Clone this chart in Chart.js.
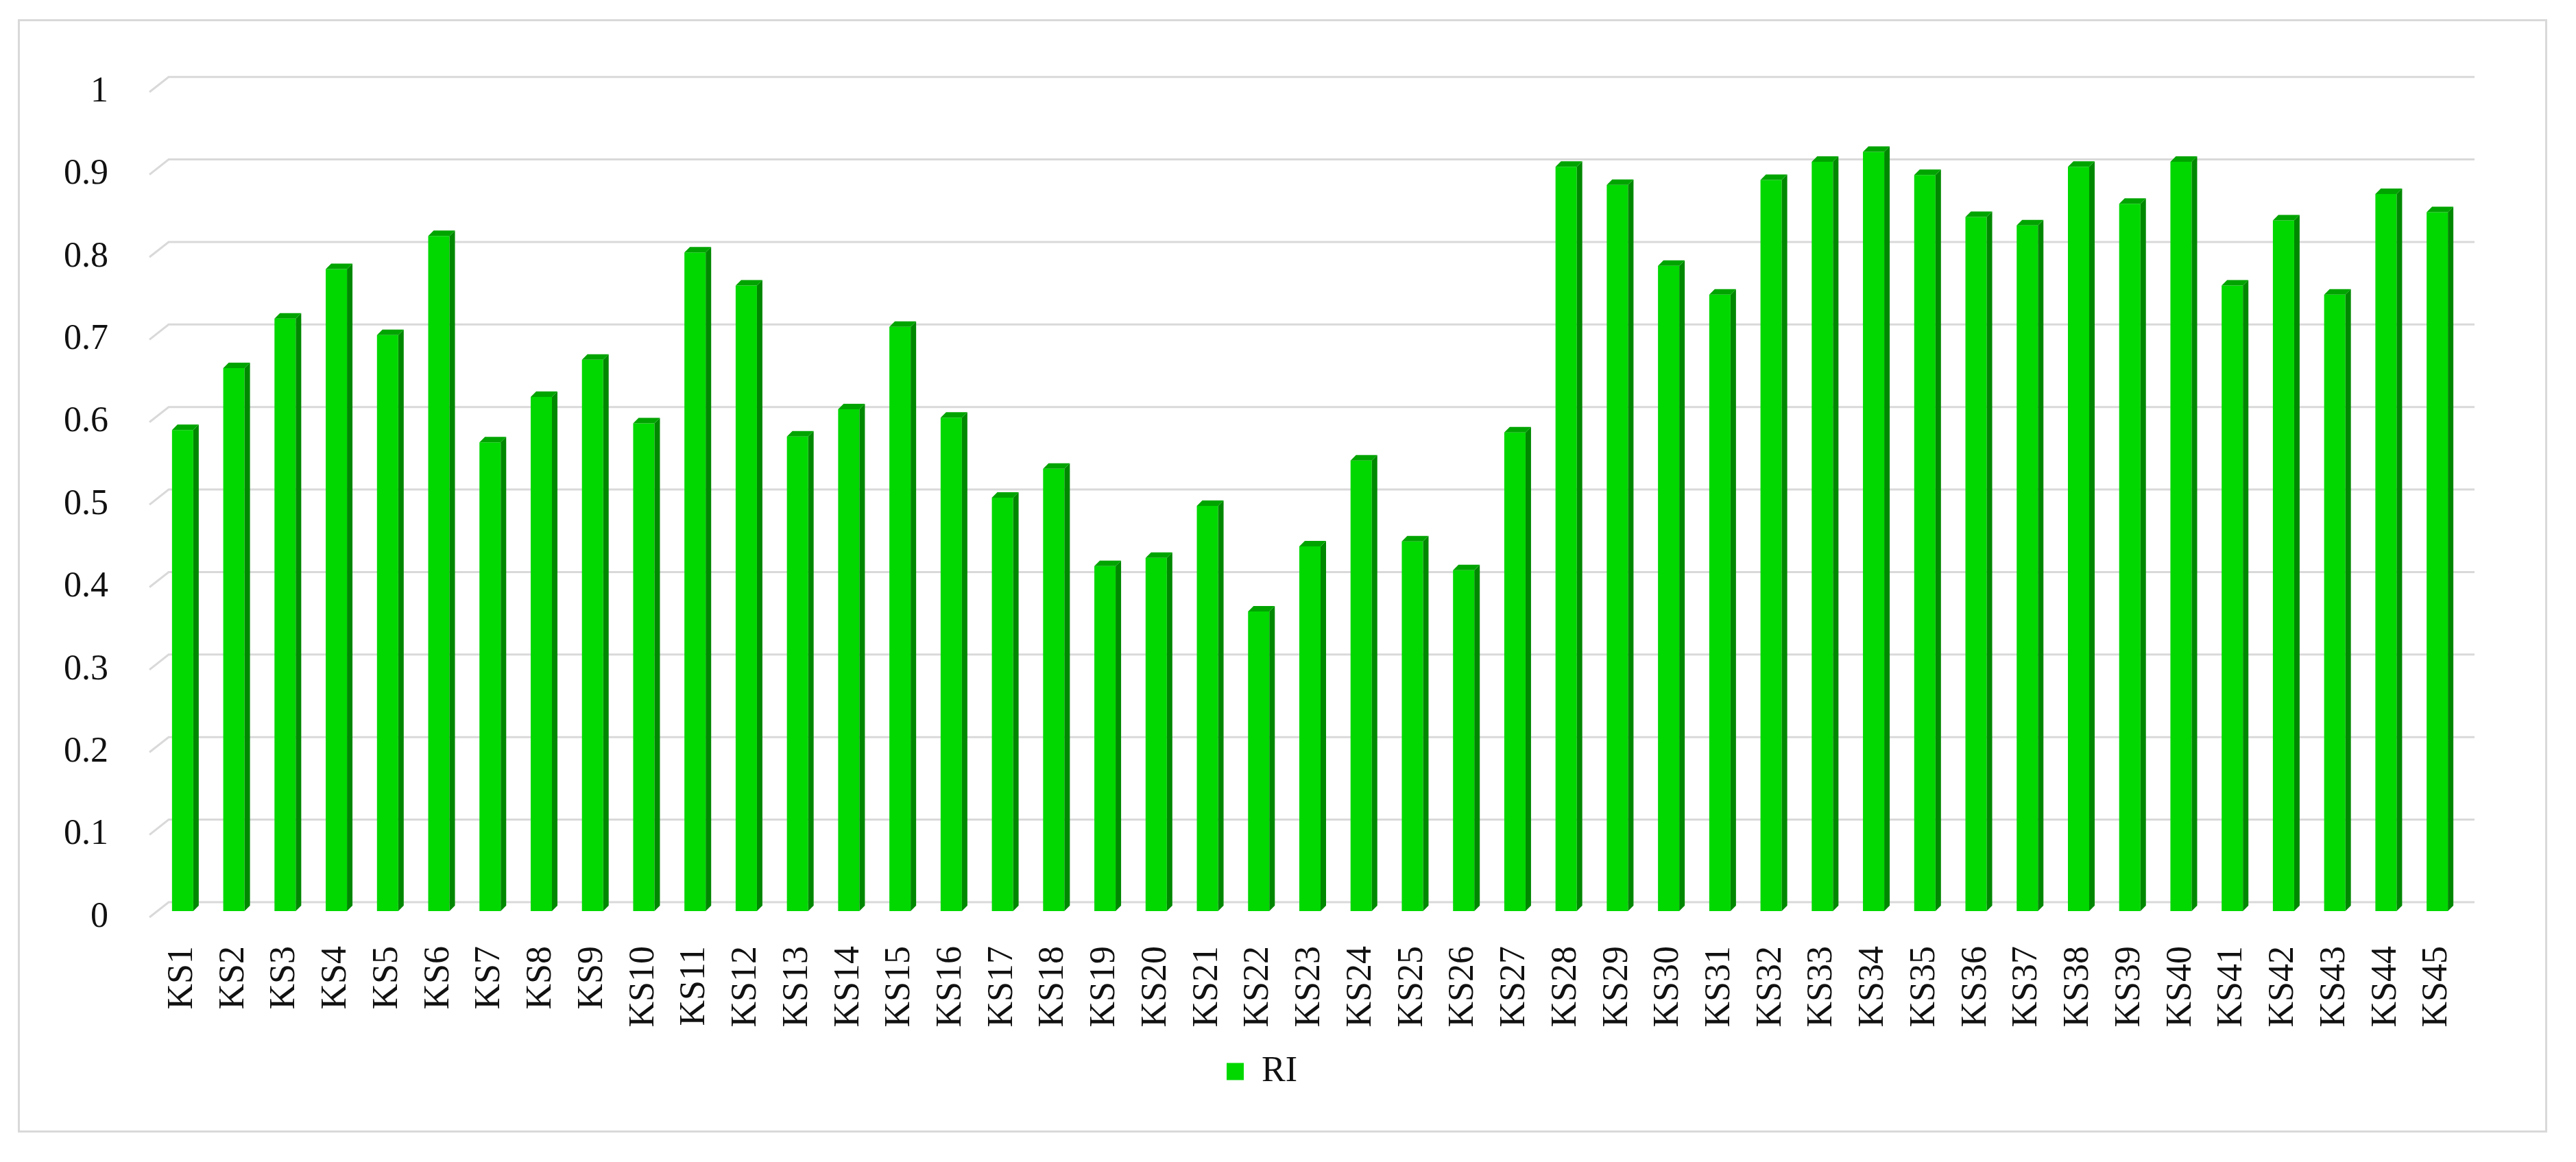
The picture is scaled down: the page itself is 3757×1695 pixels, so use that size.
<!DOCTYPE html>
<html>
<head>
<meta charset="utf-8">
<script src="https://cdn.jsdelivr.net/npm/chart.js@4.4.1/dist/chart.umd.min.js"></script>
<style>
html,body{margin:0;padding:0;background:#fff;}
#frame{position:absolute;left:26px;top:28px;width:3689px;height:1624px;box-sizing:border-box;border:3px solid #d9d9d9;}
</style>
</head>
<body>
<div id="frame"><canvas id="c"></canvas></div>
<script>
const labels=["KS1","KS2","KS3","KS4","KS5","KS6","KS7","KS8","KS9","KS10",
"KS11","KS12","KS13","KS14","KS15","KS16","KS17","KS18","KS19","KS20",
"KS21","KS22","KS23","KS24","KS25","KS26","KS27","KS28","KS29","KS30",
"KS31","KS32","KS33","KS34","KS35","KS36","KS37","KS38","KS39","KS40",
"KS41","KS42","KS43","KS44","KS45"];
const riValues=[0.583,0.658,0.718,0.778,0.698,0.818,0.568,0.623,0.668,0.591,
0.798,0.758,0.575,0.608,0.708,0.598,0.501,0.536,0.418,0.428,
0.491,0.363,0.442,0.546,0.448,0.413,0.58,0.902,0.88,0.782,
0.747,0.886,0.908,0.92,0.892,0.841,0.831,0.902,0.857,0.908,
0.758,0.837,0.747,0.869,0.847];
const yTicks=[0,0.1,0.2,0.3,0.4,0.5,0.6,0.7,0.8,0.9,1];

const frontColor='#00d800', sideColor='#008800', topColor='#00a400';
const gridColor='#d9d9d9';
// bar depth, and how far the back wall sits from the bar fronts
const depth=8, wallDx=17, wallDy=13, stubDx=28, stubDy=22;

// fake 3D: back-wall gridlines with floor stubs, side + top faces on bars
const bars3d={
id:'bars3d',
beforeDatasetsDraw(chart){
const ctx=chart.ctx, y=chart.scales.y, a=chart.chartArea;
ctx.save();
ctx.strokeStyle=gridColor;
ctx.lineWidth=3;
y.ticks.forEach(t=>{
const py=y.getPixelForValue(t.value)-wallDy;
const x0=a.left+wallDx;
ctx.beginPath();
ctx.moveTo(x0-stubDx,py+stubDy);
ctx.lineTo(x0,py);
ctx.lineTo(a.right+wallDx,py);
ctx.stroke();
});
ctx.restore();
},
afterDatasetsDraw(chart){
const ctx=chart.ctx;
ctx.save();
chart.getDatasetMeta(0).data.forEach(b=>{
const r=b.x+b.width/2, l=b.x-b.width/2;
ctx.fillStyle=sideColor;
ctx.beginPath();
ctx.moveTo(r,b.y);
ctx.lineTo(r+depth,b.y-depth);
ctx.lineTo(r+depth,b.base-depth);
ctx.lineTo(r,b.base);
ctx.closePath();
ctx.fill();
ctx.fillStyle=topColor;
ctx.beginPath();
ctx.moveTo(l,b.y);
ctx.lineTo(l+depth,b.y-depth);
ctx.lineTo(r+depth,b.y-depth);
ctx.lineTo(r,b.y);
ctx.closePath();
ctx.fill();
});
ctx.restore();
}
};

const serif="'Liberation Serif','Times New Roman',serif";

new Chart(document.getElementById('c'),{
type:'bar',
data:{
labels:labels,
datasets:[{
label:'RI',
data:riValues,
backgroundColor:frontColor,
borderWidth:0,
categoryPercentage:1,
barPercentage:0.415
}]
},
options:{
responsive:true,
maintainAspectRatio:false,
animation:false,
layout:{padding:{top:79,right:120,bottom:50,left:60}},
plugins:{
legend:{
position:'bottom',
labels:{
color:'#111',
font:{family:serif,size:52},
boxWidth:25,
boxHeight:25,
padding:10
}
},
tooltip:{enabled:false}
},
scales:{
x:{
grid:{display:false},
border:{display:false},
ticks:{
color:'#111',
font:{family:serif,size:52},
minRotation:90,
maxRotation:90,
padding:43
},
afterFit(s){s.height=198;}
},
y:{
min:0,
max:1,
border:{display:false},
grid:{display:false},
afterBuildTicks(s){s.ticks=yTicks.map(v=>({value:v}));},
ticks:{
color:'#111',
font:{family:serif,size:52},
padding:63,
labelOffset:9,
callback:v=>String(v)
},
afterFit(s){s.width=140;}
}
}
},
plugins:[bars3d]
});
</script>
</body>
</html>
